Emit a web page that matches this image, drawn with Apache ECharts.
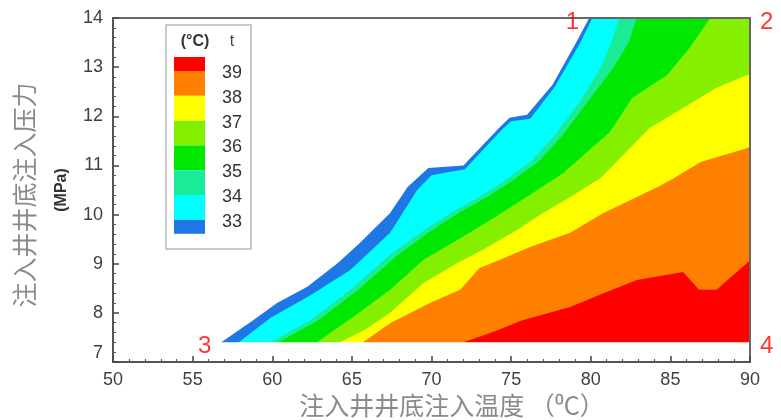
<!DOCTYPE html>
<html>
<head>
<meta charset="utf-8">
<script src="https://cdn.jsdelivr.net/npm/echarts@6/dist/echarts.min.js"></script>
<style>
  html, body { margin: 0; padding: 0; background: #fff; }
  #chart { width: 781px; height: 420px; }
</style>
</head>
<body>
<div id="chart"></div>
<script>
// contour edges, [injection temp (°C), pressure (MPa)]
// each one is the outer edge of its colour band
const blueEdge = [[56.8, 7.4], [58.8, 7.85], [60.3, 8.2], [62.2, 8.53], [64.1, 9.01], [65.5, 9.42], [67.4, 10.03], [68.5, 10.56], [69.8, 10.95], [72.0, 11.0], [74.3, 11.78], [74.9, 11.97], [76.0, 12.03], [77.6, 12.64], [79.1, 13.51], [79.9, 14]];
const cyanEdge = [[57.9, 7.4], [59.9, 7.9], [62.4, 8.36], [64.9, 8.87], [67.4, 9.63], [68.3, 10.09], [69.1, 10.5], [70.0, 10.8], [72.1, 10.92], [74.4, 11.72], [75.0, 11.9], [76.2, 11.95], [77.7, 12.58], [79.3, 13.47], [80.1, 14]];
const tealEdge = [[59.9, 7.4], [62.4, 7.85], [64.9, 8.47], [67.4, 9.18], [69.3, 9.63], [71.2, 10.03], [73.0, 10.36], [74.4, 10.65], [76.2, 11.07], [77.6, 11.56], [79.3, 12.29], [80.6, 12.98], [81.3, 13.51], [81.8, 14]];
const greenEdge = [[60.4, 7.4], [62.9, 7.85], [65.4, 8.47], [67.9, 9.18], [69.8, 9.63], [71.7, 10.03], [73.5, 10.36], [74.9, 10.65], [76.7, 11.07], [78.1, 11.56], [79.8, 12.29], [81.4, 12.98], [82.4, 13.51], [82.9, 14]];
const limeEdge = [[62.8, 7.4], [65.1, 7.92], [67.4, 8.47], [69.5, 9.08], [71.6, 9.48], [73.7, 9.89], [75.7, 10.3], [78.3, 10.85], [79.75, 11.27], [81.2, 11.68], [82.6, 12.37], [84.8, 12.84], [86.2, 13.39], [87.5, 14]];
const yellowEdge = [[64.25, 7.4], [65.8, 7.65], [67.4, 8.0], [69.5, 8.61], [71.6, 9.01], [73.2, 9.28], [75.4, 9.69], [77.0, 10.03], [78.7, 10.35], [80.6, 10.74], [82.3, 11.3], [83.7, 11.76], [85.8, 12.17], [87.9, 12.58], [90, 12.86]];
const orangeEdge = [[65.7, 7.4], [67.4, 7.79], [69.9, 8.2], [71.8, 8.47], [73.0, 8.91], [74.3, 9.08], [76.2, 9.34], [78.7, 9.63], [80.8, 10.03], [82.9, 10.36], [84.2, 10.56], [85.0, 10.7], [86.9, 11.07], [89.8, 11.35], [90, 11.38]];
const redEdge = [[72.0, 7.4], [73.7, 7.59], [75.7, 7.85], [78.7, 8.12], [80.8, 8.4], [82.9, 8.67], [85.8, 8.83], [86.8, 8.47], [87.9, 8.47], [89.8, 9.01], [90, 9.08]];

const legendLevels = ["39", "38", "37", "36", "35", "34", "33"];
const cornerNames = ["1", "2", "3", "4"];
const cornerPoints = [[79.9, 14], [90, 14], [56.8, 7.4], [90, 7.4]];

const xMin = 50, xMax = 90, yMin = 7, yMax = 14;
const floorP = 7.4; // lowest computed pressure

const colors = {
  blue: "#1f77e6",
  cyan: "#00ffff",
  teal: "#19eb96",
  green: "#00e800",
  lime: "#84f000",
  yellow: "#ffff00",
  orange: "#ff8000",
  red: "#ff0000",
};

const bands = [
  [blueEdge, colors.blue],
  [cyanEdge, colors.cyan],
  [tealEdge, colors.teal],
  [greenEdge, colors.green],
  [limeEdge, colors.lime],
  [yellowEdge, colors.yellow],
  [orangeEdge, colors.orange],
  [redEdge, colors.red],
];

// edges that stop on the top border run along it to the corner
function toCorner(edge) {
  const last = edge[edge.length - 1];
  return last[0] < xMax ? edge.concat([[xMax, yMax]]) : edge;
}

const tickFont = { fontFamily: "Liberation Sans, Arial", fontSize: 18, color: "#404040" };
const cjk = "Noto Sans CJK SC";

// legend box (tecplot style, labels sit on the colour breaks)
const legendTop = [colors.red, colors.orange, colors.yellow, colors.lime, colors.green, colors.teal, colors.cyan, colors.blue];
const legendItems = [
  { type: "rect", shape: { x: 166, y: 25, width: 85, height: 224 }, style: { fill: "#fff", stroke: "#b8b8b8", lineWidth: 1.5 } },
  { type: "text", x: 195, y: 42, style: { text: "(°C)", font: "bold 16px Liberation Sans, Arial", fill: "#333", align: "center", verticalAlign: "middle" } },
  { type: "text", x: 232, y: 42, style: { text: "t", font: "16px Liberation Sans, Arial", fill: "#444", align: "center", verticalAlign: "middle" } },
];
let sy = 57;
legendTop.forEach((c, i) => {
  const h = (i === 0 || i === legendTop.length - 1) ? 14 : 24.8;
  legendItems.push({ type: "rect", shape: { x: 174, y: sy, width: 31, height: h }, style: { fill: c } });
  sy += h;
});
legendLevels.forEach((t, i) => {
  legendItems.push({
    type: "text", x: 232, y: 73 + 24.8 * i,
    style: { text: t, font: "18px Liberation Sans, Arial", fill: "#333", align: "center", verticalAlign: "middle" },
  });
});

const frameAxis = {
  show: true, z: 10,
  axisLine: { show: true, lineStyle: { color: "#666", width: 2 } },
  axisTick: { show: false }, axisLabel: { show: false }, splitLine: { show: false },
};

const option = {
  animation: false,
  backgroundColor: "#fff",
  grid: { left: 113, right: 31, top: 18, bottom: 58, containLabel: false, outerBoundsMode: "none" },
  xAxis: [
    {
      type: "value", min: xMin, max: xMax, interval: 5, z: 10,
      axisLine: { onZero: false, lineStyle: { color: "#555", width: 2 } },
      axisTick: { inside: true, length: 6, lineStyle: { color: "#444", width: 1.5 } },
      minorTick: { show: true, splitNumber: 5, length: 3, lineStyle: { color: "#555", width: 1 } },
      axisLabel: { ...tickFont, margin: 9 },
      splitLine: { show: false },
    },
    { ...frameAxis, type: "value", position: "top", min: xMin, max: xMax },
  ],
  yAxis: [
    {
      type: "value", min: yMin, max: yMax, interval: 1, z: 10,
      axisLine: { onZero: false, lineStyle: { color: "#555", width: 2 } },
      axisTick: { inside: true, length: 6, lineStyle: { color: "#444", width: 1.5 } },
      minorTick: { show: true, splitNumber: 5, length: 3, lineStyle: { color: "#555", width: 1 } },
      axisLabel: {
        ...tickFont, margin: 10,
        formatter: v => (v === yMin ? "{lo|" + v + "}" : String(v)),
        rich: { lo: { ...tickFont, padding: [0, 0, 18, 0] } },
      },
      splitLine: { show: false },
    },
    { ...frameAxis, type: "value", position: "right", min: yMin, max: yMax },
  ],
  graphic: [
    ...legendItems,
    { type: "text", x: 24, y: 195, rotation: Math.PI / 2,
      style: { text: "注入井井底注入压力", font: "25px " + cjk, fill: "#8a8a8a", align: "center", verticalAlign: "middle" } },
    { type: "text", x: 62, y: 190, rotation: Math.PI / 2,
      style: { text: "(MPa)", font: "bold 16px Liberation Sans, Arial", fill: "#333", align: "center", verticalAlign: "middle" } },
    { type: "text", x: 452, y: 405,
      style: { text: "注入井井底注入温度 （⁰C）", font: "25px " + cjk, fill: "#8a8a8a", align: "center", verticalAlign: "middle" } },
  ],
  series: [
    ...bands.map(([edge, color]) => ({
      type: "line",
      data: toCorner(edge),
      symbol: "none",
      silent: true,
      lineStyle: { width: 0, opacity: 0 },
      areaStyle: { color: color, opacity: 1, origin: "start" },
    })),
    // blank strip under the lowest computed pressure, keeps the band bottoms clean
    {
      type: "line",
      data: [[xMin, floorP], [xMax, floorP]],
      symbol: "none",
      silent: true,
      lineStyle: { width: 0, opacity: 0 },
      areaStyle: { color: "#fff", opacity: 1, origin: "start" },
    },
    {
      type: "scatter",
      clip: false,
      symbolSize: 0,
      silent: true,
      data: cornerPoints.map((p, i) => ({
        value: p,
        name: cornerNames[i],
        label: { position: p[0] >= xMax ? "right" : "left" },
      })),
      label: {
        show: true,
        formatter: "{b}",
        distance: 10,
        offset: [0, 4],
        color: "#ff0000",
        fontSize: 24,
        fontFamily: "Liberation Sans, Arial",
      },
      z: 20,
    },
  ],
};

const chart = echarts.init(document.getElementById("chart"));
chart.setOption(option);
</script>
</body>
</html>
